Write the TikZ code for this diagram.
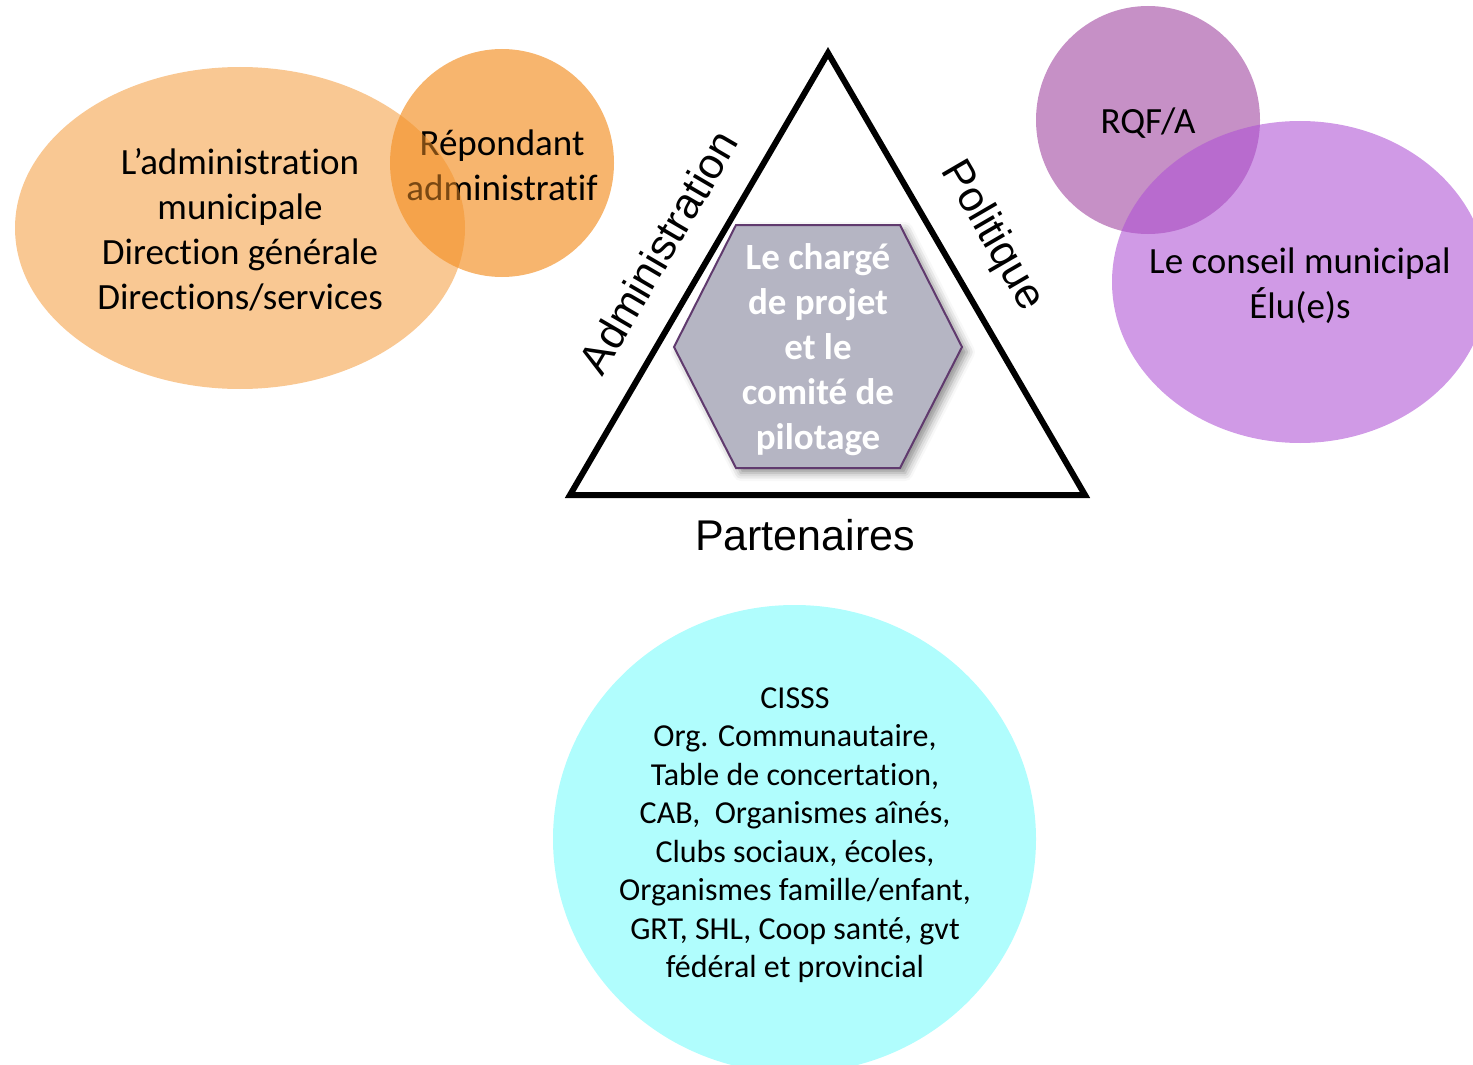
\documentclass[tikz,border=0pt]{standalone}
\usepackage{fontspec}
\setmainfont{Carlito}[Ligatures=NoCommon, RawFeature={-liga;-calt;-clig}]
\newfontfamily\arialf{Liberation Sans}
\usetikzlibrary{shadows.blur}
\definecolor{orng}{RGB}{243,145,39}
\definecolor{purpS}{RGB}{198,144,198}
\definecolor{purpB}{RGB}{174,81,212}
\definecolor{cyanc}{RGB}{176,253,253}
\definecolor{hexfill}{RGB}{181,181,195}
\definecolor{hexline}{RGB}{96,58,110}
\begin{document}
\begin{tikzpicture}[x=0.5pt,y=-0.5pt,
  lbl/.style={align=center,font=\fontsize{18.5}{22.5}\selectfont, inner sep=0pt},
  lblsmall/.style={align=center,font=\fontsize{16}{19.25}\selectfont, inner sep=0pt},
  hexlbl/.style={align=center,font=\bfseries\fontsize{18.5}{22.5}\selectfont, inner sep=0pt},
  side/.style={font=\arialf\fontsize{21.5}{25}\selectfont, inner sep=0pt}]
\useasboundingbox (0,0) rectangle (1473,1065);
\clip (0,0) rectangle (1473,1065);
% orange group
\fill[orng, fill opacity=0.67] (502,163) ellipse [x radius=56pt, y radius=57pt];
\node[lbl] (rep) at (502,165) {Répondant\\administratif};
\fill[orng, fill opacity=0.5] (240,228) ellipse [x radius=112.5pt, y radius=80.5pt];
\node[lbl] (adm) at (240,230) {L’administration\\municipale\\Direction générale\\Directions/services};
% purple group
\fill[purpS] (1148,120) ellipse [x radius=56pt, y radius=57pt];
\node[lbl] (rqf) at (1148,123) {RQF/A};
\fill[purpB, fill opacity=0.58] (1300,282) ellipse [x radius=94pt, y radius=80.5pt];
\node[lbl] (cons) at (1300,286) {Le conseil municipal\\Élu(e)s};
% cyan partners
\fill[cyanc] (794.5,839) ellipse [x radius=120.75pt, y radius=117pt];
\node[lblsmall] (part) at (795,835) {CISSS\\Org. Communautaire,\\Table de concertation,\\CAB,~ Organismes aînés,\\Clubs sociaux, écoles,\\Organismes famille/enfant,\\GRT, SHL, Coop santé, gvt\\fédéral et provincial};
% triangle
\coordinate (A) at (828,53);
\coordinate (B) at (570,495);
\coordinate (C) at (1085,495);
\draw[line width=3pt, line join=miter] (A) -- (B) -- (C) -- cycle;
% hexagon
\path[fill=hexfill, draw=hexline, line width=1pt,
  blur shadow={shadow xshift=2.5pt, shadow yshift=-2.5pt, shadow blur radius=4pt, shadow opacity=45}]
  (736,225) -- (900,225) -- (962,347) -- (900,468) -- (736,468) -- (674,347) -- cycle;
\node[hexlbl, text=white] (hex) at (818,350) {Le chargé\\de projet\\et le\\comité de\\pilotage};
% side labels
\node[side, rotate=59.7] (adml) at (658,252) {Administration};
\node[side, rotate=-59.8] (pol) at (992,236) {Politique};
\node[side] (parl) at (805,535) {Partenaires};
\end{tikzpicture}
\end{document}
